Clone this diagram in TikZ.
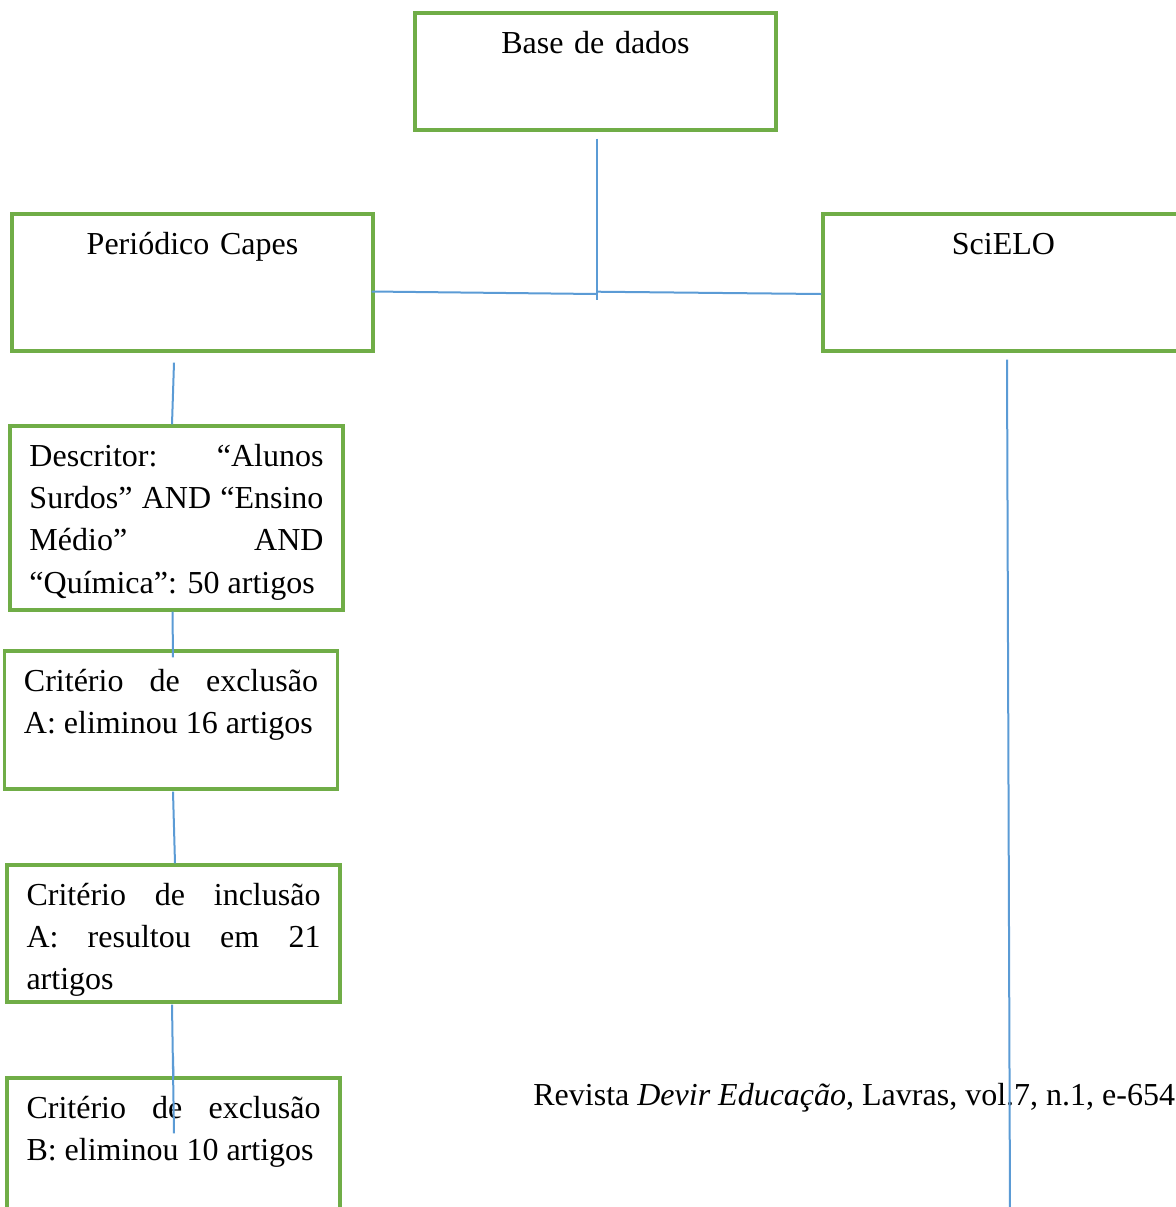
\documentclass[tikz,border=0pt]{standalone}
\usepackage{fontspec}
\setmainfont{Liberation Serif}
\usetikzlibrary{calc}
\definecolor{verdecx}{HTML}{70AD47}
\definecolor{azullig}{HTML}{5B9BD5}
\tikzset{caixa/.style={draw=verdecx, line width=1.6pt, inner xsep=9.75pt, inner ysep=0pt, text height=20pt, text width=147pt, align=justify, font=\fontsize{16}{21.2}\selectfont}}
\tikzset{caixac/.style={caixa, text width=161pt, align=center}}
\tikzset{liga/.style={draw=azullig, line width=1pt}}
\tolerance=10000
\hbadness=10000
\hyphenpenalty=10000

\begin{document}
\begin{tikzpicture}[x=0.5pt, y=-0.5pt]
		\useasboundingbox (0,0) rectangle (1176,1207);
		\clip (0,0) rectangle (1176,1207);
		\node[caixac, text depth=38.5pt] (base) at (595.5,71.5) {Base de dados};
		\node[caixac, text depth=48.5pt] (capes) at (192.5,282.5) {Periódico Capes};
		\node[caixac, text depth=48.5pt] (scielo) at (1003.5,282.5) {SciELO};
		\node[caixa, text depth=72pt] (descr) at (176.5,518) {Descritor: “Alunos\linebreak Surdos” AND “Ensino\linebreak Médio” AND\linebreak “Química”: 50 artigos};
		\node[caixa, text depth=49pt] (exclA) at (171,720) {Critério de exclusão\linebreak A: eliminou 16 artigos};
		\node[caixa, text depth=48.5pt] (inclA) at (173.5,933.5) {Critério de inclusão\linebreak A: resultou em 21\linebreak artigos};
		\node[caixa, text depth=48.5pt] (exclB) at (173.5,1146.5) {Critério de exclusão\linebreak B: eliminou 10 artigos};
		\node[anchor=base west, inner sep=0pt, font=\fontsize{16}{21.2}\selectfont] (revista) at (533,1105) {Revista \textit{Devir Educação}, Lavras, vol.7, n.1, e-654};
%
		\coordinate (juncao) at (597,294);
		\coordinate (fim) at (1010,1212);
		\draw[liga] ($(base.south)+(1.5,7)$) -- ($(juncao)+(0,6)$);
		\draw[liga] ($(capes.east)+(-3,9)$) -- (juncao);
		\draw[liga] ($(juncao)+(0,-2.3)$) -- ($(scielo.west)+(0,11.5)$);
		\draw[liga] ($(capes.south)+(-18.5,10)$) -- ($(descr.north)+(-4.5,0)$);
		\draw[liga] ($(descr.south)+(-4,0)$) -- ($(exclA.north)+(2,8)$);
		\draw[liga] ($(exclA.south)+(2,1)$) -- ($(inclA.north)+(1.5,0)$);
		\draw[liga] ($(inclA.south)+(-1.5,1)$) -- ($(exclB.north)+(0.5,57)$);
		\draw[liga] ($(exclB.north)+(-0.5,-20)$) -- (exclB.north);
		\draw[liga] ($(scielo.south)+(3.5,7)$) -- (fim);
		% a linha da SciELO desce ate o fim da pagina
	\end{tikzpicture}
\end{document}
